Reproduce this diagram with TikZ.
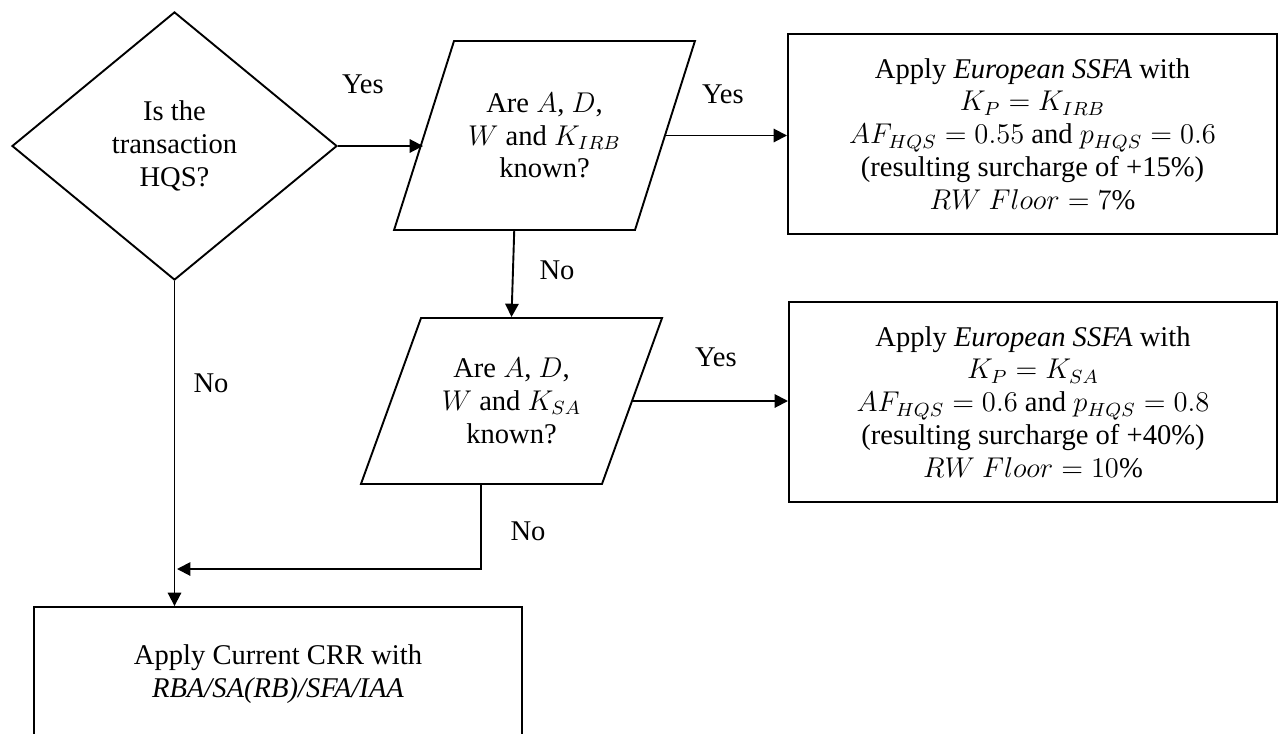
\documentclass[tikz,border=0pt]{standalone}
\usepackage{fontspec}
\setmainfont{Liberation Serif}
\usetikzlibrary{shapes.geometric,arrows.meta}

\newcommand{\qtext}[3]{\parbox[c][#2][c]{#1}{\centering #3}}

\tikzset{
  decision/.style={diamond, draw, align=center, inner sep=0pt},
  question/.style={trapezium, draw, inner sep=0pt},
  outcome/.style={rectangle, draw, align=center, inner sep=0pt},
  flow/.style={-{Triangle[length=5.6pt,width=5.6pt]}}
}

\begin{document}
\begin{tikzpicture}[x=0.42pt, y=-0.42pt, font=\fontsize{12pt}{13.8pt}\selectfont, line width=0.8pt]
  \useasboundingbox (0,0) rectangle (1279,733);

  % questions
  \node[decision, minimum width=136.5pt, minimum height=112.6pt] (hqs) at (174.5,146) {Is the\\transaction\\HQS?};
  \node[question, trapezium left angle=72.4, trapezium right angle=107.6] (irb) at (544.5,135.5)
    {\qtext{76pt}{79.4pt}{Are $A$, $D$,\\$W$ and $K_{IRB}$\\known?}};
  \node[question, trapezium left angle=70.1, trapezium right angle=109.9] (sa) at (511.5,401)
    {\qtext{76pt}{69.7pt}{Are $A$, $D$,\\$W$ and $K_{SA}$\\known?}};

  % outcomes
  \node[outcome, minimum width=205.4pt, minimum height=84pt] (ssfairb) at (1032.5,134)
    {Apply \textit{European SSFA} with\\$K_P = K_{IRB}$\\$AF_{HQS} = 0.55$ and $p_{HQS} = 0.6$\\(resulting surcharge of +15\%)\\$RW\ Floor = 7\%$};
  \node[outcome, minimum width=205pt, minimum height=84pt] (ssfasa) at (1033,402)
    {Apply \textit{European SSFA} with\\$K_P = K_{SA}$\\$AF_{HQS} = 0.6$ and $p_{HQS} = 0.8$\\(resulting surcharge of +40\%)\\$RW\ Floor = 10\%$};
  \node[outcome, minimum width=205pt, minimum height=56.7pt] (crr) at (278,674.5)
    {Apply Current CRR with\\\textit{RBA/SA(RB)/SFA/IAA}};

  \coordinate (join) at (177,569);

  % connectors
  \draw[flow] (hqs.east) -- (hqs.east -| irb.west);
  \draw[flow] (irb.east) -- (irb.east -| ssfairb.west);
  \draw[flow] (irb.bottom side) -- (sa.north);
  \draw[flow] (sa.east) -- (sa.east -| ssfasa.west);
  \draw[flow] (sa.bottom side) |- (join);
  \draw[flow] (hqs.south) -- (hqs.south |- crr.north);

  % labels
  \node (yes1) at (363,84) {Yes};
  \node (yes2) at (723,94) {Yes};
  \node (no1) at (557,270) {No};
  \node (yes3) at (716,357) {Yes};
  \node (no2) at (528,531) {No};
  \node (no3) at (211,383) {No};
\end{tikzpicture}
\end{document}
